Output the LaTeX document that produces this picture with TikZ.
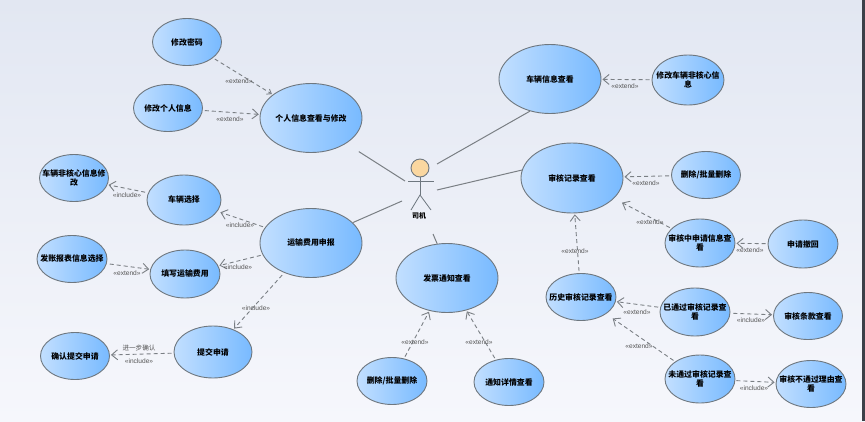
\documentclass[tikz,border=0pt]{standalone}
\usepackage{fontspec}
\setmainfont{Noto Sans CJK SC}
\newfontfamily\latinlabel{Liberation Sans}
\usetikzlibrary{arrows.meta,shapes.geometric}
\definecolor{ucL}{HTML}{C2DFFF}
\definecolor{ucR}{HTML}{78BAFF}
\definecolor{ucB}{HTML}{6E777F}
\definecolor{lineG}{HTML}{7A7F84}
\definecolor{txtG}{HTML}{555555}
\definecolor{edgeD}{HTML}{3C4048}
\tikzset{
  uc/.style={ellipse,draw=ucB,line width=0.9pt,left color=ucL,right color=ucR,inner sep=0pt},
  ucs/.style={uc,minimum width=69pt,minimum height=47pt},
  ucm/.style={uc,minimum width=76pt,minimum height=51pt},
  ucb/.style={uc,minimum width=102pt,minimum height=69pt},
  uctext/.style={inner sep=0pt,align=center,text=black,font=\fontsize{7.9}{9}\selectfont\bfseries},
  t/.style={label={[uctext]center:{#1}}},
  dep/.style={draw=lineG,line width=0.9pt,dash pattern=on 4pt off 3pt,-{Straight Barb[length=6pt,width=10pt]},shorten >=1pt,shorten <=2pt},
  assoc/.style={draw=lineG,line width=1pt},
  st/.style={inner sep=0pt,text=txtG,font=\latinlabel\fontsize{6.6}{7}\selectfont},
}
\begin{document}
\begin{tikzpicture}[x=1pt,y=-1pt]
\useasboundingbox (0,0) rectangle (865,421);
\shade[top color={rgb,255:red,226;green,231;blue,242},bottom color={rgb,255:red,246;green,247;blue,252}] (0,0) rectangle (865,421);
\fill[edgeD] (861.5,0) rectangle (865,421);

% left top
\node[ucs,t={修改密码}] (pwd) at (187,42) {};
\node[ucs,t={修改个人信息}] (info) at (168,108) {};
\node[ucb,t={个人信息查看与修改}] (pi) at (311,118) {};
\node[ucs,t={车辆非核心信息修\\改}] (core) at (74,178) {};
\node[ucm,minimum width=74pt,minimum height=50pt,t={车辆选择}] (sel) at (184,200) {};
\node[ucb,t={运输费用申报}] (fee) at (311,243) {};
\node[ucs,minimum width=70pt,t={发账报表信息选择}] (bill) at (72,259) {};
\node[ucs,minimum width=70pt,minimum height=48pt,t={填写运输费用}] (fill) at (185,274) {};
\node[ucm,minimum width=78pt,minimum height=52pt,t={提交申请}] (sub) at (213,352) {};
\node[ucs,t={确认提交申请}] (conf) at (75,356) {};

% right
\node[ucb,t={车辆信息查看}] (car) at (550,79) {};
\node[ucs,minimum width=72pt,minimum height=50pt,t={修改车辆非核心信\\息}] (edit) at (688,80) {};
\node[ucb,minimum height=70pt,t={审核记录查看}] (rec) at (572,178) {};
\node[ucs,t={删除/批量删除}] (del1) at (706,175) {};
\node[ucs,minimum width=70pt,minimum height=48pt,t={审核中申请信息查\\看}] (ing) at (700,243) {};
\node[ucs,minimum width=70pt,minimum height=48pt,t={申请撤回}] (back) at (803,244) {};
\node[ucs,minimum width=70pt,t={历史审核记录查看}] (his) at (581,297) {};
\node[ucs,minimum width=70pt,minimum height=48pt,t={已通过审核记录查\\看}] (pass) at (695,312) {};
\node[ucs,t={审核条款查看}] (terms) at (808,316) {};
\node[ucs,minimum width=70pt,minimum height=48pt,t={未通过审核记录查\\看}] (fail) at (700,379) {};
\node[ucs,minimum width=70pt,t={审核不通过理由查\\看}] (why) at (811,384) {};

% bottom centre
\node[ucb,t={发票通知查看}] (note) at (447,278) {};
\node[ucs,minimum width=70pt,t={删除/批量删除}] (del2) at (392,381) {};
\node[ucs,minimum width=70pt,t={通知详情查看}] (det) at (509,382) {};

% actor
\node[circle,draw=ucB,line width=0.9pt,fill={rgb,255:red,250;green,215;blue,160},minimum size=18pt,inner sep=0pt] (head) at (420,168) {};
\coordinate (neck) at (420,195);
\coordinate (armL) at (408,181);
\coordinate (armR) at (434,181);
\coordinate (footL) at (411,210);
\coordinate (footR) at (431,210);
\draw[draw=ucB,line width=0.8pt] (head) -- (neck);
\draw[draw=ucB,line width=0.8pt] (armL) -- (armR);
\draw[draw=ucB,line width=0.8pt] (footL) -- (neck) -- (footR);
\node[inner sep=0pt,font=\fontsize{7}{8}\selectfont\bfseries] (drv) at (419,216) {司机};

% associations
\coordinate (a1) at (405,181);
\coordinate (a2) at (437,164);
\coordinate (a3) at (437,190);
\coordinate (a4) at (402,201);
\coordinate (a5) at (433,234);
\draw[assoc,shorten >=15pt] (a1) -- (pi.324);
\draw[assoc] (a2) -- (car.238);
\draw[assoc] (a3) -- (rec.171);
\draw[assoc] (a4) -- (fee.26);
\draw[assoc] (a5) -- (note.106);

% dependencies
\draw[dep,-{Straight Barb[length=4pt,width=6pt]}] (pwd) -- (pi);
\draw[dep] (info) -- (pi);
\draw[dep,shorten <=3pt] (sel) -- (core);
\draw[dep,shorten >=3pt] (fee) -- (sel);
\draw[dep] (fee) -- (fill);
\draw[dep,shorten <=3pt] (bill) -- (fill);
\draw[dep,shorten <=3pt] (fee) -- (sub);
\draw[dep] (sub) -- (conf);
\draw[dep] (edit) -- (car);
\draw[dep] (del1) -- (rec);
\draw[dep,shorten >=9pt] (ing.153) -- (rec.334);
\draw[dep] (back) -- (ing);
\draw[dep] (his) -- (rec);
\draw[dep] (pass) -- (his);
\draw[dep,shorten >=8pt] (fail.145) -- (his.326);
\draw[dep,shorten <=3pt] (pass) -- (terms);
\draw[dep,shorten <=1pt] (fail) -- (why);
\draw[dep] (del2) -- (note);
\draw[dep] (det) -- (note);

% labels
\node[st] (l1) at (239,81.5) {«extend»};
\node[st] (l2) at (230,119) {«extend»};
\node[st] (l3) at (127,195) {«include»};
\node[st] (l4) at (240,225) {«include»};
\node[st] (l5) at (238,267) {«include»};
\node[st] (l6) at (127,273.5) {«extend»};
\node[st] (l7) at (256,308) {«include»};
\node[inner sep=0pt,text=txtG,font=\fontsize{6.6}{7}\selectfont] (l8) at (139,348) {进一步确认};
\node[st] (l9) at (139,361) {«include»};
\node[st] (l10) at (625,86) {«extend»};
\node[st] (l11) at (646,183) {«extend»};
\node[st] (l12) at (650,222) {«extend»};
\node[st] (l13) at (750,250) {«extend»};
\node[st] (l14) at (575,251) {«extend»};
\node[st] (l15) at (637,312) {«extend»};
\node[st] (l16) at (751,320) {«include»};
\node[st] (l17) at (639,346) {«extend»};
\node[st] (l18) at (754,388) {«include»};
\node[st] (l19) at (415,342) {«extend»};
\node[st] (l20) at (479,342) {«extend»};
\end{tikzpicture}
\end{document}
